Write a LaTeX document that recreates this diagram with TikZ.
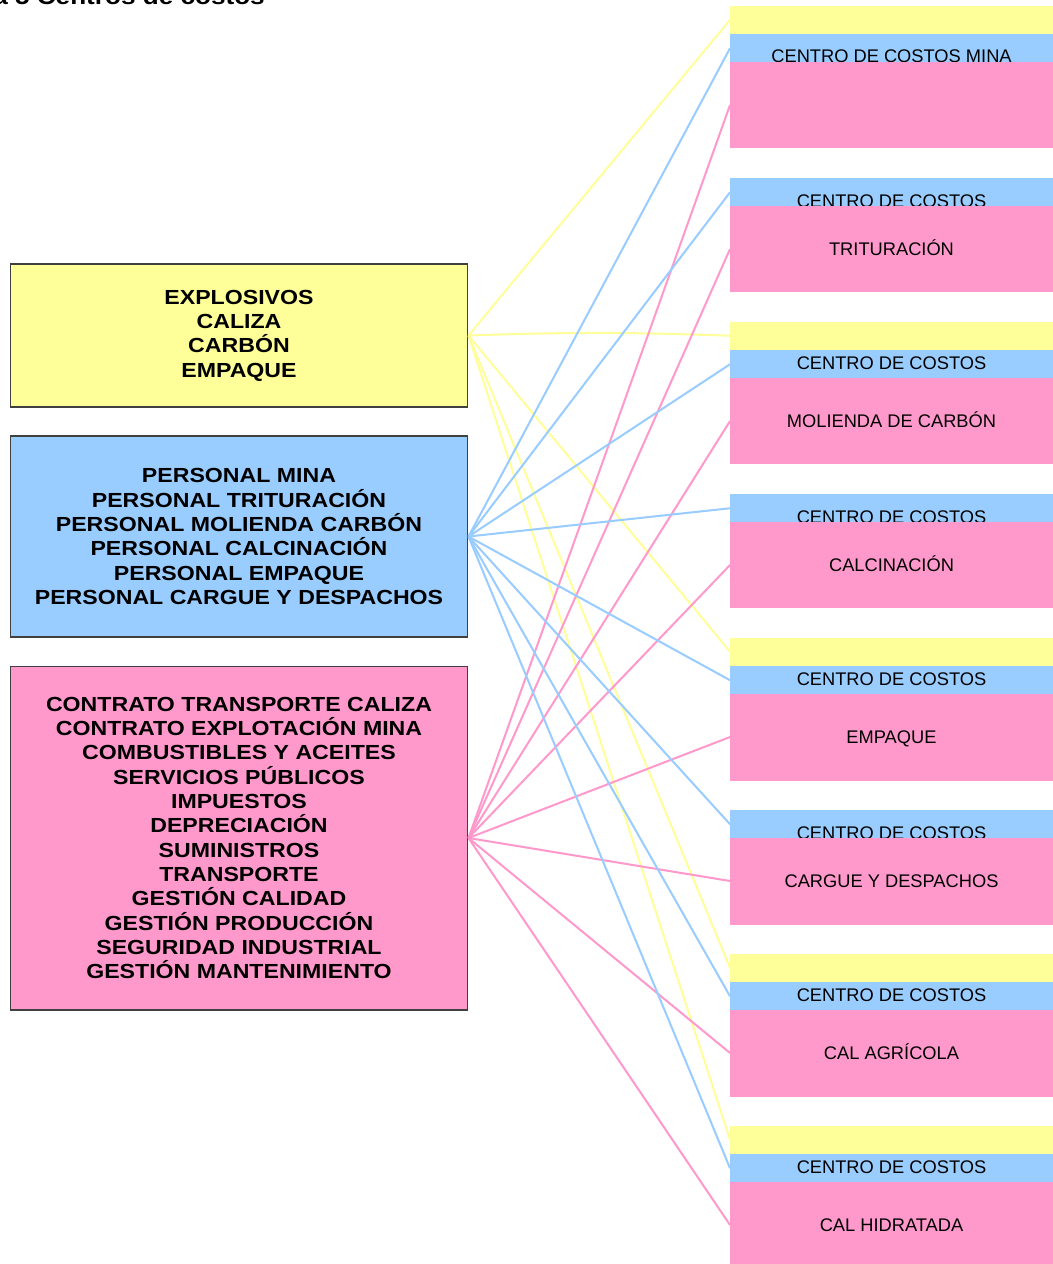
\documentclass[tikz,border=0pt]{standalone}
\usepackage{fontspec}
\setmainfont{Liberation Sans}
\newfontfamily\negrita[FakeStretch=1.135]{Liberation Sans Bold}
\definecolor{amarillo}{HTML}{FFFF99}
\definecolor{azul}{HTML}{99CCFF}
\definecolor{rosa}{HTML}{FF99CC}
\tikzset{
  caja/.style={draw=black!75, line width=0.6pt, minimum width=9.16cm, inner sep=0pt,
    align=center, font=\negrita\fontsize{11.6}{13.85}\selectfont},
  banda/.style={minimum width=6.46cm, inner sep=0pt, outer sep=0pt,
    font=\fontsize{10.4}{12}\selectfont, text height=7.4pt, text depth=0pt},
  bandaY/.style={banda, fill=amarillo, minimum height=0.57cm},
  bandaB/.style={banda, fill=azul, minimum height=0.57cm},
  bandaP/.style={banda, fill=rosa, minimum height=1.74cm},
  linea/.style={line width=1.15pt},
}
\begin{document}
\begin{tikzpicture}[x=0.02cm,y=-0.02cm]
\useasboundingbox[fill=white] (0,0) rectangle (1053,1264);
\node[anchor=base east, font=\negrita\fontsize{13.1}{15}\selectfont] (titulo) at (271,5) {Figura 5 Centros de costos};
% costos que entran
\node[caja, fill=amarillo, minimum height=2.86cm] (expl) at (239,335.5) {EXPLOSIVOS\\CALIZA\\CARBÓN\\EMPAQUE};
\node[caja, fill=azul, minimum height=4.02cm] (pers) at (239,536.5) {PERSONAL MINA\\PERSONAL TRITURACIÓN\\PERSONAL MOLIENDA CARBÓN\\PERSONAL CALCINACIÓN\\PERSONAL EMPAQUE\\PERSONAL CARGUE Y DESPACHOS};
\node[caja, fill=rosa, minimum height=6.88cm] (gen) at (239,838) {CONTRATO TRANSPORTE CALIZA\\CONTRATO EXPLOTACIÓN MINA\\COMBUSTIBLES Y ACEITES\\SERVICIOS PÚBLICOS\\IMPUESTOS\\DEPRECIACIÓN\\SUMINISTROS\\TRANSPORTE\\GESTIÓN CALIDAD\\GESTIÓN PRODUCCIÓN\\SEGURIDAD INDUSTRIAL\\GESTIÓN MANTENIMIENTO};
% centros de costos
\foreach \n/\b in {mina/34,mol/350,emp/666,agr/982,hid/1154}
  \node[bandaY] (\n-y) at (891.5,\b-14.25) {};
\foreach \n/\b/\dy/\cc/\etiq in {mina/34/22.5/{CENTRO DE COSTOS MINA}/{},
    trit/178/22.5/{CENTRO DE COSTOS}/{TRITURACIÓN},
    mol/350/13/{CENTRO DE COSTOS}/{MOLIENDA DE CARBÓN},
    calc/494/22.5/{CENTRO DE COSTOS}/{CALCINACIÓN},
    emp/666/13/{CENTRO DE COSTOS}/{EMPAQUE},
    carg/810/22.5/{CENTRO DE COSTOS}/{CARGUE Y DESPACHOS},
    agr/982/13.3/{CENTRO DE COSTOS}/{CAL AGRÍCOLA},
    hid/1154/13/{CENTRO DE COSTOS}/{CAL HIDRATADA}}{
  \node[bandaB] (\n-b) at (891.5,\b+14.25) {};
  \node[banda, minimum height=0pt] (\n-t) at (891.5,\b+\dy) {\cc};
  \node[bandaP] (\n-p) at (891.5,\b+71) {\etiq};
}
% conexiones
\foreach \n in {mina,emp,agr,hid}
  \draw[linea, amarillo] (expl.east) -- (\n-y.west);
\draw[linea, amarillo] (expl.east) to[bend left=2] (mol-y.west);
\foreach \n in {mina,trit,mol,calc,emp,carg,agr,hid}{
  \draw[linea, azul] (pers.east) -- (\n-b.west);
  \draw[linea, rosa] (gen.east) -- (\n-p.west);
}
\end{tikzpicture}
\end{document}
